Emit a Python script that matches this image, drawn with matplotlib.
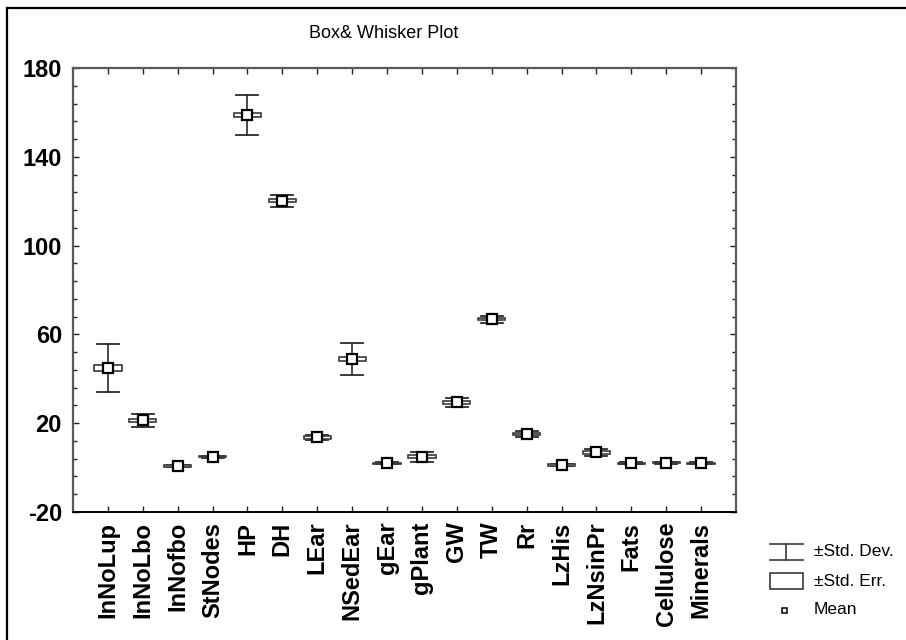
import numpy as np
import matplotlib
matplotlib.use("Agg")
import matplotlib.pyplot as plt
from matplotlib.patches import Rectangle
from matplotlib.lines import Line2D
from matplotlib.ticker import FixedLocator

plt.rcParams["font.family"] = ["Liberation Sans", "DejaVu Sans"]

# Descriptive stats per variable: mean, standard deviation, standard error
labels = ["InNoLup", "InNoLbo", "InNofbo", "StNodes", "HP", "DH", "LEar",
          "NSedEar", "gEar", "gPlant", "GW", "TW", "Rr", "LzHis",
          "LzNsinPr", "Fats", "Cellulose", "Minerals"]
means = [44.7, 21.3, 0.7, 4.9, 158.8, 120.2, 13.6, 48.8, 1.9, 4.9,
         29.4, 66.9, 15.1, 1.2, 6.9, 1.9, 2.2, 1.9]
sds = [10.8, 2.9, 0.5, 0.5, 8.9, 2.6, 1.3, 7.2, 0.4, 2.2,
       2.0, 1.6, 1.3, 0.4, 1.5, 0.5, 0.5, 0.5]
ses = [1.3, 0.6, 0.3, 0.3, 1.05, 0.6, 0.6, 0.9, 0.3, 0.6,
       0.6, 0.6, 0.6, 0.3, 0.6, 0.3, 0.3, 0.3]
yticks = [-20, 20, 60, 100, 140, 180]

W, H = 906, 640
fig = plt.figure(figsize=(W / 100, H / 100), dpi=100)
ax = fig.add_axes([73 / W, 1 - 512 / H, (736 - 73) / W, (512 - 68) / H])

xs = np.arange(1, len(labels) + 1)
cap = 0.315
half_box = 0.39
for x, m, sd, se in zip(xs, means, sds, ses):
    # whisker (+/- std dev)
    ax.plot([x, x], [m - sd, m + sd], color="#3a3a3a", lw=1.3, zorder=2)
    for yv in (m - sd, m + sd):
        ax.plot([x - cap, x + cap], [yv, yv], color="#2a2a2a", lw=1.3, zorder=2)
    # box (+/- std err)
    ax.add_patch(Rectangle((x - half_box, m - se), 2 * half_box, 2 * se,
                           facecolor="white", edgecolor="#3a3a3a", lw=1.2, zorder=3))
    # mean marker
    ax.plot([x], [m], marker="s", ms=6.6, mfc="white", mec="black", mew=1.6,
            linestyle="none", zorder=4)

ax.set_xlim(0, len(labels) + 1)
ax.set_ylim(-20, 180)
ax.set_xticks(xs)
ax.set_xticklabels(labels, rotation=90, fontsize=17, fontweight="bold")
ax.set_yticks(yticks)
ax.set_yticklabels([str(v) for v in yticks], fontsize=17, fontweight="bold")
ax.yaxis.set_minor_locator(FixedLocator(np.arange(-20, 181, 8)))
ax.tick_params(axis="both", which="both", direction="in", top=True, right=True,
               color="#222222", width=1.0)
ax.tick_params(axis="y", which="major", length=4, pad=8)
ax.tick_params(axis="y", which="minor", length=3)
ax.tick_params(axis="x", which="major", length=4, pad=7)
for side in ("left", "top", "right"):
    ax.spines[side].set_color("#5a5a5a")
    ax.spines[side].set_linewidth(1.6)
ax.spines["bottom"].set_color("black")
ax.spines["bottom"].set_linewidth(1.4)

fig.text(384 / W, 1 - 33 / H, "Box& Whisker Plot", fontsize=13,
         ha="center", va="center")

# frame around the whole chart
fig.add_artist(Line2D([7 / W, 7 / W], [0, 1 - 8 / H], color="black", lw=1.6,
                      transform=fig.transFigure))
fig.add_artist(Line2D([7 / W, 1], [1 - 8 / H, 1 - 8 / H], color="black", lw=1.6,
                      transform=fig.transFigure))

# legend drawn in pixel space
lg = fig.add_axes([760 / W, 0, (W - 760) / W, 110 / H])
lg.set_xlim(0, W - 760)
lg.set_ylim(110, 0)
lg.axis("off")
lg.plot([9.5, 42.5], [13.5, 13.5], color="#3a3a3a", lw=1.2)
lg.plot([9.5, 42.5], [30, 30], color="#3a3a3a", lw=1.2)
lg.plot([26, 26], [13.5, 30], color="#3a3a3a", lw=1.2)
lg.add_patch(Rectangle((9.5, 42.5), 33, 16, facecolor="white",
                       edgecolor="#3a3a3a", lw=1.2))
lg.plot([24], [79.5], marker="s", ms=3.6, mfc="white", mec="black", mew=1.1)
for yy, txt in [(21.5, "±Std. Dev."), (51, "±Std. Err."), (80, "Mean")]:
    lg.text(54, yy, txt, fontsize=12.5, ha="left", va="center")

fig.savefig("out.png", dpi=100)
